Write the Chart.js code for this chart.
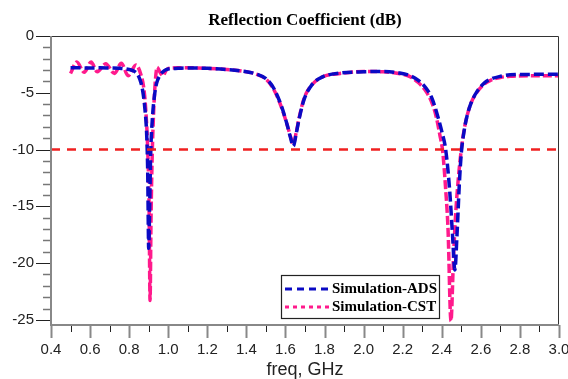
<!DOCTYPE html>
<html>
<head>
<meta charset="utf-8">
<script src="https://cdn.jsdelivr.net/npm/chart.js@4/dist/chart.umd.min.js"></script>
<style>
  html, body { margin: 0; padding: 0; background: #fff; }
</style>
</head>
<body>
<canvas id="chart" width="568" height="379"></canvas>
<script>
// frequency axis (GHz) and S11 (dB)
const freqADS = [0.50, 0.55, 0.60, 0.65, 0.70, 0.75, 0.80, 0.83, 0.85, 0.86, 0.87, 0.88, 0.89, 0.895, 0.90, 0.905, 0.91, 0.92, 0.93, 0.94, 0.96, 0.98,
                 1.00, 1.05, 1.10, 1.20, 1.30, 1.40, 1.45, 1.50, 1.54, 1.58, 1.61, 1.625, 1.64, 1.655, 1.67, 1.695, 1.735, 1.79, 1.88,
                 2.00, 2.10, 2.18, 2.24, 2.28, 2.32, 2.35, 2.38, 2.40, 2.42, 2.44, 2.455, 2.467, 2.478, 2.49, 2.50, 2.515, 2.53, 2.55,
                 2.58, 2.62, 2.65, 2.70, 2.75, 2.85, 2.95, 3.00];
const ads = [-2.8, -2.8, -2.82, -2.8, -2.82, -2.85, -2.95, -3.15, -3.6, -4.1, -4.9, -6.3, -8.8, -12, -18.7, -15, -10.5, -7.0, -5.2, -4.2, -3.4, -3.05,
             -2.9, -2.85, -2.82, -2.85, -2.95, -3.15, -3.35, -3.75, -4.6, -6.2, -7.9, -8.9, -9.7, -8.6, -7.3, -5.6, -4.3, -3.6, -3.27,
             -3.15, -3.12, -3.25, -3.5, -3.9, -4.6, -5.5, -7.1, -8.4, -10.0, -13.5, -17.5, -20.6, -17.5, -13.0, -10.3, -8.3, -7.0, -5.9,
             -4.9, -4.1, -3.8, -3.55, -3.42, -3.38, -3.36, -3.36];

const freqCST = [0.50, 0.532, 0.57, 0.605, 0.637, 0.68, 0.725, 0.76, 0.795, 0.835, 0.86, 0.875, 0.885, 0.895, 0.902, 0.907, 0.912, 0.918, 0.925, 0.933, 0.943, 0.958, 0.973, 0.99,
                 1.00, 1.05, 1.10, 1.20, 1.30, 1.40, 1.45, 1.50, 1.54, 1.58, 1.61, 1.625, 1.64, 1.655, 1.67, 1.695, 1.735, 1.79, 1.88,
                 2.00, 2.10, 2.18, 2.24, 2.28, 2.32, 2.35, 2.37, 2.39, 2.405, 2.42, 2.432, 2.447, 2.46, 2.47, 2.485, 2.50, 2.515, 2.53, 2.55,
                 2.58, 2.62, 2.65, 2.70, 2.75, 2.85, 2.95, 3.00];
const cst = [-3.3, -2.3, -3.2, -2.3, -3.15, -2.45, -3.3, -2.4, -3.5, -2.55, -3.4, -4.6, -6.5, -10.0, -15.0, -23.3, -16.0, -10.5, -6.8, -4.2, -2.75, -3.2, -3.5, -3.0,
             -2.85, -2.8, -2.8, -2.85, -2.95, -3.15, -3.35, -3.8, -4.7, -6.3, -7.9, -8.8, -9.5, -8.5, -7.2, -5.5, -4.3, -3.6, -3.3,
             -3.12, -3.15, -3.3, -3.6, -4.1, -4.9, -5.9, -7.0, -8.7, -10.2, -13.5, -17.0, -25.1, -19.5, -16.0, -12.5, -10.0, -8.2, -7.0, -5.9,
             -4.95, -4.2, -3.9, -3.65, -3.55, -3.5, -3.5, -3.5];

const seriesNames = ['Simulation-ADS', 'Simulation-CST'];
const refLevel = -10;
const xRange = [0.4, 3.0];
const yRange = [-25.45, 0];

const toPts = (xs, ys) => xs.map((x, i) => ({ x: x, y: ys[i] }));

// major/minor ticks, frame and grey axes
const frame = {
  id: 'frame',
  afterDraw(chart) {
    const ctx = chart.ctx, a = chart.chartArea;
    const xs = chart.scales.x, ys = chart.scales.y;
    ctx.save();
    ctx.strokeStyle = '#333';
    ctx.lineWidth = 1;
    ctx.beginPath();
    ctx.moveTo(a.left, a.top + 0.5);
    ctx.lineTo(a.right - 0.5, a.top + 0.5);
    ctx.lineTo(a.right - 0.5, a.bottom);
    ctx.stroke();

    xs.ticks.forEach(t => {
      const px = Math.round(xs.getPixelForValue(t.value)) + 0.5;
      const major = Math.round(t.value * 10) % 2 === 0;
      ctx.strokeStyle = major ? '#888' : '#222';
      ctx.lineWidth = major ? 2 : 1;
      ctx.beginPath();
      ctx.moveTo(px, a.bottom);
      ctx.lineTo(px, a.bottom + (major ? 13 : 7));
      ctx.stroke();
    });
    ys.ticks.forEach(t => {
      const py = Math.round(ys.getPixelForValue(t.value)) + 0.5;
      const major = Math.round(t.value) % 5 === 0;
      ctx.strokeStyle = major ? '#222' : '#777';
      ctx.lineWidth = major ? 1 : 1.5;
      ctx.beginPath();
      ctx.moveTo(a.left, py);
      ctx.lineTo(a.left - (major ? 15 : 8), py);
      ctx.stroke();
    });

    ctx.strokeStyle = '#888';
    ctx.lineWidth = 2;
    ctx.beginPath();
    ctx.moveTo(a.left, a.top);
    ctx.lineTo(a.left, a.bottom);
    ctx.lineTo(a.right, a.bottom);
    ctx.stroke();
    ctx.restore();
  }
};

const legendBox = {
  id: 'legendBox',
  afterDraw(chart) {
    const ctx = chart.ctx;
    const bx = 281, by = 275, bw = 158, bh = 43;
    ctx.save();
    ctx.fillStyle = '#fff';
    ctx.fillRect(bx, by, bw, bh);
    ctx.strokeStyle = '#222';
    ctx.lineWidth = 1.2;
    ctx.strokeRect(bx + 0.5, by + 0.5, bw, bh);
    const dashes = [[7, 5], [4, 4]];
    [0, 1].forEach(i => {
      const ds = chart.data.datasets[i];
      const yy = by + 14 + i * 18;
      ctx.strokeStyle = ds.borderColor;
      ctx.lineWidth = 3;
      ctx.setLineDash(dashes[i]);
      ctx.beginPath();
      ctx.moveTo(bx + 4, yy);
      ctx.lineTo(bx + 50, yy);
      ctx.stroke();
      ctx.setLineDash([]);
      ctx.fillStyle = '#000';
      ctx.font = 'bold 15px "Liberation Serif", "Times New Roman", serif';
      ctx.textBaseline = 'middle';
      ctx.fillText(ds.label, bx + 51, yy);
    });
    ctx.restore();
  }
};

new Chart(document.getElementById('chart'), {
  type: 'line',
  data: {
    datasets: [
      {
        label: seriesNames[0],
        data: toPts(freqADS, ads),
        borderColor: '#0a0ac4',
        borderWidth: 3.5,
        borderDash: [10, 4],
        pointRadius: 0,
        cubicInterpolationMode: 'monotone',
        order: 1
      },
      {
        label: seriesNames[1],
        data: toPts(freqCST, cst),
        borderColor: '#ff1a8c',
        borderWidth: 3.5,
        borderDash: [9, 3],
        pointRadius: 0,
        cubicInterpolationMode: 'monotone',
        order: 2
      },
      {
        label: 'ref',
        data: toPts(xRange, [refLevel, refLevel]),
        borderColor: '#f02020',
        borderWidth: 2.5,
        borderDash: [9, 7],
        pointRadius: 0,
        order: 0
      }
    ]
  },
  plugins: [frame, legendBox],
  options: {
    responsive: false,
    animation: false,
    layout: { padding: { left: 0, right: 9, top: 0, bottom: 0 } },
    plugins: {
      legend: { display: false },
      tooltip: { enabled: false },
      title: {
        display: true,
        text: 'Reflection Coefficient (dB)',
        fullSize: false,
        color: '#000',
        font: { family: '"Liberation Serif", "Times New Roman", serif', size: 17, weight: 'bold' },
        padding: { top: 10, bottom: 5.6 }
      }
    },
    scales: {
      x: {
        type: 'linear',
        min: xRange[0],
        max: xRange[1],
        border: { display: false },
        grid: { display: false, drawTicks: true, tickLength: 13 },
        ticks: {
          stepSize: 0.1,
          autoSkip: false,
          maxRotation: 0,
          minRotation: 0,
          includeBounds: false,
          padding: 3,
          color: '#222',
          font: { family: '"Liberation Sans", Arial, sans-serif', size: 15 },
          callback: v => (Math.round(v * 10) % 2 === 0 ? v.toFixed(1) : '')
        },
        title: {
          display: true,
          text: 'freq, GHz',
          color: '#222',
          font: { family: '"Liberation Sans", Arial, sans-serif', size: 18, lineHeight: 1.0 },
          padding: { top: 0, bottom: 0 }
        },
        afterFit: s => { s.height = 54; s.paddingLeft = 0; s.paddingRight = 0; }
      },
      y: {
        min: yRange[0],
        max: yRange[1],
        border: { display: false },
        grid: { display: false, drawTicks: true, tickLength: 15 },
        ticks: {
          stepSize: 1,
          autoSkip: false,
          includeBounds: false,
          padding: 2,
          color: '#222',
          font: { family: '"Liberation Sans", Arial, sans-serif', size: 15 },
          callback: v => (Math.round(v) % 5 === 0 ? String(Math.round(v)) : '')
        },
        afterFit: s => { s.width = 51; }
      }
    }
  }
});
</script>
</body>
</html>
